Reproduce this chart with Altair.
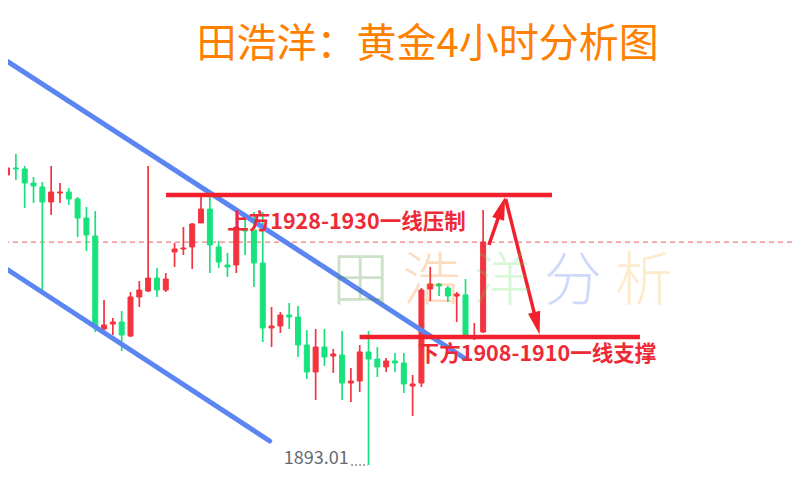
import altair as alt
import pandas as pd

# ---- data ----
opens = [1931.67, 1932.60, 1932.47, 1930.60, 1930.07, 1928.07, 1929.27, 1929.40, 1928.47, 1925.93,
         1923.53, 1911.13, 1911.80, 1912.07, 1910.20, 1915.40, 1916.20, 1917.93, 1916.33, 1921.40,
         1921.80, 1922.07, 1925.27, 1927.13, 1922.07, 1919.67, 1919.67, 1924.47, 1924.33, 1919.93,
         1911.27, 1911.53, 1913.00, 1912.73, 1909.00, 1905.40, 1908.73, 1907.53, 1907.67, 1903.93,
         1904.20, 1908.07, 1907.13, 1906.07, 1906.87, 1906.60, 1903.53, 1903.93, 1916.47, 1917.13,
         1916.60, 1915.53, 1915.67, 1909.93, 1910.73]
highs = [1934.07, 1934.47, 1932.87, 1931.40, 1930.73, 1932.87, 1930.60, 1929.93, 1928.73, 1927.40,
         1926.87, 1915.00, 1912.60, 1913.53, 1916.07, 1917.53, 1932.87, 1919.27, 1918.60, 1922.60,
         1924.73, 1925.27, 1929.13, 1929.13, 1922.87, 1921.27, 1926.60, 1925.93, 1926.73, 1926.73,
         1914.07, 1913.40, 1914.60, 1914.20, 1911.00, 1911.13, 1911.13, 1908.47, 1910.87, 1905.93,
         1909.00, 1910.87, 1908.73, 1907.27, 1907.93, 1907.93, 1905.00, 1916.60, 1919.40, 1917.27,
         1916.87, 1916.07, 1917.80, 1911.93, 1927.00]
lows = [1931.00, 1931.00, 1927.27, 1927.93, 1916.33, 1926.33, 1927.93, 1927.67, 1923.40, 1921.53,
        1910.73, 1911.00, 1910.33, 1908.20, 1910.07, 1914.07, 1916.07, 1915.40, 1916.07, 1919.40,
        1921.00, 1919.13, 1925.27, 1918.60, 1919.27, 1918.07, 1918.60, 1921.00, 1916.73, 1909.40,
        1908.73, 1910.60, 1911.13, 1907.40, 1904.47, 1901.67, 1906.20, 1905.27, 1901.67, 1901.40,
        1902.73, 1893.01, 1904.73, 1905.40, 1905.40, 1902.60, 1899.53, 1903.40, 1914.87, 1915.53,
        1914.73, 1912.07, 1910.07, 1909.67, 1910.60]
closes = [1932.60, 1932.47, 1930.60, 1930.20, 1928.07, 1929.40, 1929.40, 1928.47, 1925.93, 1923.67,
          1911.27, 1911.67, 1912.07, 1910.33, 1915.40, 1916.33, 1917.93, 1916.33, 1917.80, 1921.80,
          1921.93, 1925.13, 1927.13, 1922.33, 1920.07, 1919.40, 1924.73, 1924.20, 1919.93, 1911.27,
          1911.53, 1913.00, 1912.73, 1909.00, 1905.40, 1908.73, 1907.40, 1907.80, 1903.93, 1904.20,
          1908.07, 1907.13, 1906.07, 1906.87, 1906.60, 1903.80, 1903.80, 1916.33, 1917.13, 1916.87,
          1915.53, 1915.80, 1910.07, 1910.20, 1922.73]

title_text = "田浩洋：黄金4小时分析图"
upper_label = "上方1928-1930一线压制"
lower_label = "下方1908-1910一线支撑"
low_label = "1893.01"
watermark_chars = ["田", "浩", "洋", "分", "析"]
watermark_colors = ["#32821e", "#f57300", "#5fe05f", "#3c69eb", "#f5af2d"]

resistance_level = 1929.0
support_level = 1910.07

RED = "#f3343f"
GREEN = "#18e27c"
LINE_RED = "#f2202c"
BLUE = "#5b86f2"

# ---- tables ----
candles = pd.DataFrame({
    "i": list(range(len(opens))),
    "o": opens, "h": highs, "l": lows, "c": closes,
})
candles["dir"] = ["up" if c >= o else "down" for o, c in zip(opens, closes)]

xs = alt.Scale(domain=[0.672, 88.466], nice=False, zero=False)
ys = alt.Scale(domain=[1892.067, 1953.933], nice=False, zero=False)
cscale = alt.Scale(domain=["up", "down"], range=[RED, GREEN])


def X(f):
    return alt.X(f, type="quantitative", scale=xs, axis=None)


def Y(f):
    return alt.Y(f, type="quantitative", scale=ys, axis=None)


base = alt.Chart(candles)

dashed = alt.Chart(pd.DataFrame({"p": [closes[-1]]})).mark_rule(
    color="#f08080", strokeWidth=1.2, strokeDash=[5, 4]
).encode(y=Y("p"))

wicks = base.mark_rule(strokeWidth=1.7).encode(
    x=X("i"), y=Y("l"), y2=alt.Y2("h"),
    color=alt.Color("dir:N", scale=cscale, legend=None),
)
bodies = base.mark_bar(size=5, strokeWidth=1).encode(
    x=X("i"), y=Y("o"), y2=alt.Y2("c"),
    color=alt.Color("dir:N", scale=cscale, legend=None),
    stroke=alt.Stroke("dir:N", scale=cscale, legend=None),
)

channel = pd.DataFrame({
    "x1": [-0.224, -0.224], "y1": [1947.01, 1919.27],
    "x2": [51.85, 29.79], "y2": [1907.27, 1896.2],
})
blue = alt.Chart(channel).mark_rule(color=BLUE, strokeWidth=5, strokeCap="round").encode(
    x=X("x1"), x2=alt.X2("x2"), y=Y("y1"), y2=alt.Y2("y2")
)

levels = pd.DataFrame({
    "x1": [18.03, 39.98], "x2": [61.81, 71.78], "p": [resistance_level, support_level],
})
hlines = alt.Chart(levels).mark_rule(color=LINE_RED, strokeWidth=4.5).encode(
    x=X("x1"), x2=alt.X2("x2"), y=Y("p")
)

arrows = pd.DataFrame({
    "x1": [54.65, 56.55], "y1": [1922.33, 1928.47],
    "x2": [56.10, 60.09], "y2": [1927.27, 1911.89],
    "ang": [17.7, 166.2],
})
arrow_lines = alt.Chart(arrows).mark_rule(color=LINE_RED, strokeWidth=3.5).encode(
    x=X("x1"), x2=alt.X2("x2"), y=Y("y1"), y2=alt.Y2("y2")
)
arrow_heads = alt.Chart(arrows).mark_point(
    shape="M0,-1L0.55,1L-0.55,1Z", filled=True, color=LINE_RED, size=520, opacity=1
).encode(x=X("x2"), y=Y("y2"), angle=alt.Angle("ang:Q", scale=None))

labels = pd.DataFrame({
    "x": [24.97, 46.58], "p": [1925.27, 1907.67], "t": [upper_label, lower_label],
})
label_text = alt.Chart(labels).mark_text(
    align="left", baseline="middle", font="Noto Sans CJK SC", fontSize=21.5,
    color="#ee2a36", fontWeight="bold",
).encode(x=X("x"), y=Y("p"), text="t:N")

low_df = pd.DataFrame({"x": [38.75], "p": [1893.1], "t": [low_label]})
low_text = alt.Chart(low_df).mark_text(
    align="right", baseline="alphabetic", font="Noto Sans CJK SC", fontSize=18,
    color="#666a75",
).encode(x=X("x"), y=Y("p"), text="t:N")
dots_df = pd.DataFrame({"x1": [39.05], "x2": [40.9], "p": [min(lows)]})
dots = alt.Chart(dots_df).mark_rule(color="#666a75", strokeWidth=1.5, strokeDash=[1.5, 2.5]).encode(
    x=X("x1"), x2=alt.X2("x2"), y=Y("p")
)

title_df = pd.DataFrame({"x": [47.7], "p": [1949.0], "t": [title_text]})
title = alt.Chart(title_df).mark_text(
    align="center", baseline="middle", font="Noto Sans CJK SC", fontSize=40,
    color="#ff7f00",
).encode(x=X("x"), y=Y("p"), text="t:N")

wm_start, wm_step = 40.1, 8.03
wm = pd.DataFrame({
    "x": [wm_start + k * wm_step for k in range(len(watermark_chars))],
    "p": [1917.27] * len(watermark_chars),
    "t": watermark_chars,
    "col": watermark_colors,
})
watermark = alt.Chart(wm).mark_text(
    align="center", baseline="middle", font="Noto Sans CJK SC", fontSize=58,
    fontWeight=300, opacity=0.24,
).encode(x=X("x"), y=Y("p"), text="t:N", color=alt.Color("col:N", scale=None))

chart = alt.layer(
    dashed, wicks, bodies, blue, hlines, arrow_lines, arrow_heads,
    label_text, dots, low_text, title, watermark,
).properties(
    width=784, height=464, padding=0, background="white",
    autosize=alt.AutoSizeParams(type="none"),
).configure_view(strokeWidth=0)

chart.save("out.html", embed_options={"renderer": "svg", "actions": False})
